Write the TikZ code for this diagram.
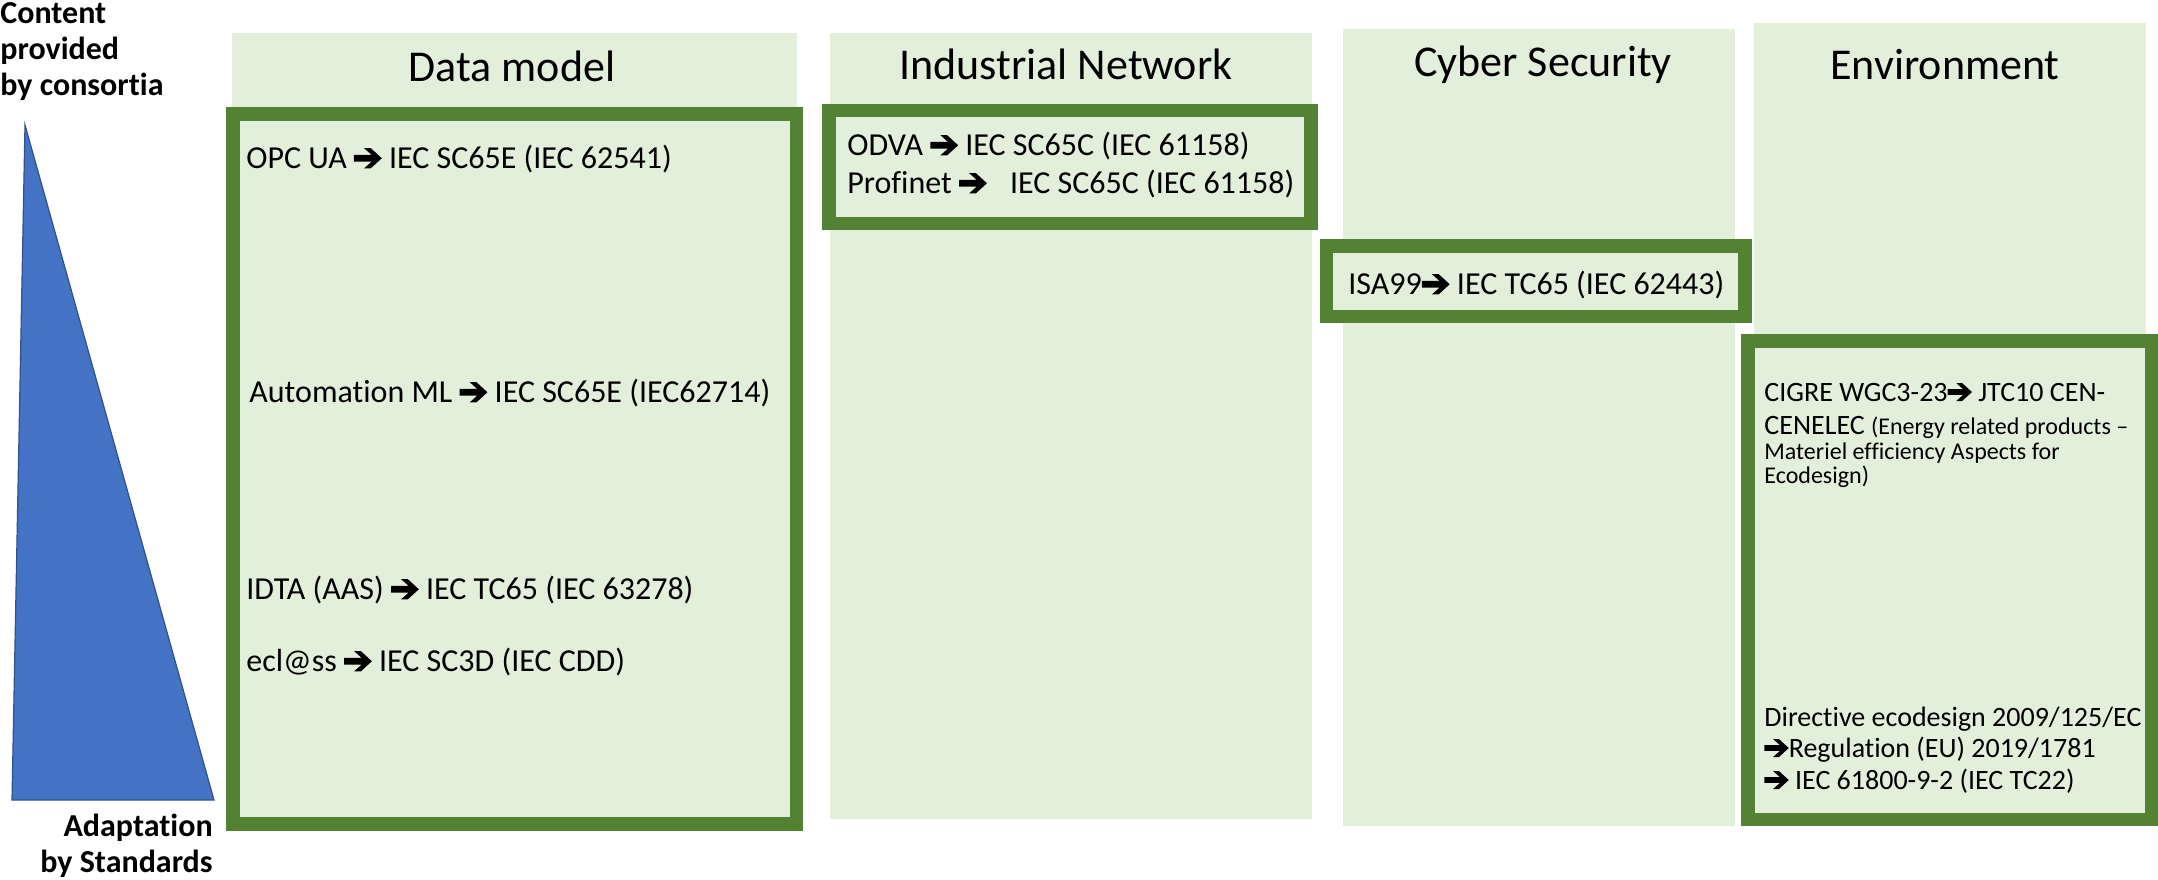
\documentclass[tikz,border=0pt]{standalone}
\usepackage{fontspec}
\setmainfont{Carlito}[RawFeature={-liga;-clig;-calt;-dlig}]
\newcommand{\toarr}{\tikz[x=1em,y=1em,baseline=0pt]\fill (0,0.215) -- (0.55,0.215) -- (0.31,0) -- (0.52,0) -- (0.87,0.32) -- (0.52,0.64) -- (0.31,0.64) -- (0.55,0.425) -- (0,0.425) -- cycle;}
\definecolor{bggreen}{HTML}{E2EFDA}
\definecolor{framegreen}{HTML}{548235}
\definecolor{triblue}{HTML}{4472C4}
\definecolor{triedge}{HTML}{2F528F}

\begin{document}
\begin{tikzpicture}[x=0.5pt,y=-0.5pt,
  every node/.style={inner sep=0pt,font=\fontsize{16}{19}\selectfont},
  colbox/.style={fill=bggreen},
  frame/.style={draw=framegreen,line width=6.7pt,fill=bggreen},
  head/.style={font=\fontsize{22}{26}\selectfont},
  side/.style={font=\fontsize{16}{18}\bfseries\selectfont},
  item/.style={anchor=west},
  small/.style={anchor=base west,font=\fontsize{12}{14}\selectfont},
  mid/.style={anchor=base west,font=\fontsize{14}{16}\selectfont}]

\useasboundingbox (0,0) rectangle (2158,879);

% columns
\fill[colbox] (232,33) rectangle (797,820);
\fill[colbox] (830,33) rectangle (1312,819);
\fill[colbox] (1343,29) rectangle (1735,826);
\fill[colbox] (1754,23) rectangle (2146,820);

% frames
\draw[frame] (233,114) rectangle (796.5,824);
\draw[frame] (829,110.5) rectangle (1311,223.5);
\draw[frame] (1326.5,246) rectangle (1745,316.5);
\draw[frame] (1748,341) rectangle (2152,819.5);

% triangle
\draw[fill=triblue,draw=triedge,line width=0.6pt] (25,125) -- (12,800) -- (214,800) -- cycle;

\node[side,anchor=north west,align=left] (top) at (0,2) {Content\\provided\\by consortia};
\node[side,anchor=south east,align=right] (bottom) at (213,878) {Adaptation\\by Standards};

\node[head] (h1) at (512,66) {Data model};
\node[head] (h2) at (1066,64) {Industrial Network};
\node[head] (h3) at (1543,65) {Cyber Security};
\node[head] (h4) at (1945,65) {Environment};

\node[item] (opc) at (246,159) {OPC UA \toarr{} IEC SC65E (IEC 62541)};
\node[item] (aml) at (249,393) {Automation ML \toarr{} IEC SC65E (IEC62714)};
\node[item] (idta) at (246,590) {IDTA (AAS) \toarr{} IEC TC65 (IEC 63278)};
\node[item] (eclass) at (246,662) {ecl@ss \toarr{} IEC SC3D (IEC CDD)};

\node[item] (odva) at (847,146) {ODVA \toarr{} IEC SC65C (IEC 61158)};
\node[item] (pnet) at (847,184) {Profinet \toarr\hspace{0.5em} IEC SC65C (IEC 61158)};

\node[item] (isa) at (1348,285) {ISA99\toarr{} IEC TC65 (IEC 62443)};

\node[mid] (cig1) at (1764,401) {CIGRE WGC3-23\toarr{} JTC10 CEN-};
\node[mid] (cig2) at (1764,434) {CENELEC {\fontsize{12}{14}\selectfont(Energy related products –}};
\node[small] (cig3) at (1764,459) {Materiel efficiency Aspects for};
\node[small] (cig4) at (1764,483) {Ecodesign)};

\node[mid] (dir1) at (1764,726) {Directive ecodesign 2009/125/EC};
\node[mid] (dir2) at (1764,757) {\toarr Regulation (EU) 2019/1781};
\node[mid] (dir3) at (1764,789) {\toarr{} IEC 61800-9-2 (IEC TC22)};
\end{tikzpicture}
\end{document}
